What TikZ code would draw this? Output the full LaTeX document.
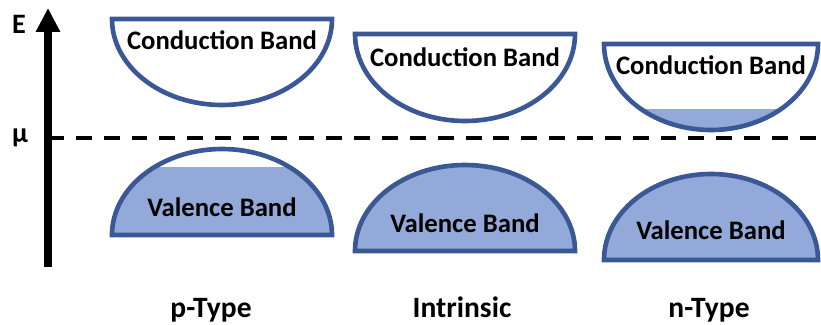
\documentclass[tikz,border=0pt]{standalone}
\usepackage{fontspec}
\setmainfont{Carlito}
\usepackage{tikz}
\usetikzlibrary{positioning, calc}
\usetikzlibrary{arrows.meta}

\begin{document}
\begin{tikzpicture}[x=0.025cm, y=0.025cm, font=\fontsize{19}{22}\selectfont\bfseries, >={Triangle[width=16.3pt, length=17pt]},
    band/.style={draw=bandblue, line width=3.3pt},
    lbl/.style={inner sep=0pt},
    kind/.style={inner sep=0pt, anchor=base, font=\fontsize{21}{24}\selectfont\bfseries},
    axlbl/.style={inner sep=0pt, font=\fontsize{20}{23}\selectfont\bfseries}]
        % Define colors
        \definecolor{bandblue}{RGB}{59,88,150}
        \definecolor{fillblue}{RGB}{146,169,217}

        \useasboundingbox (0,0) rectangle (821,324);

        % Energy axis and chemical potential
        \coordinate (axisbot) at (48,57);
        \coordinate (axistop) at (48,316);
        \coordinate (muleft) at (48,186);
        \coordinate (muright) at (821,186);
        \draw[dash pattern=on 11.3pt off 8.5pt, line width=2.8pt] (muleft) -- (muright);
        \draw[->, line width=5.7pt] (axisbot) -- (axistop);
        \node[axlbl] (E) at (19,300) {E};
        \node[axlbl] (mu) at (20,186) {µ};

        % p-Type
        \draw[band, fill=white] (112,305) arc[start angle=180, end angle=360, x radius=110, y radius=86] -- cycle;
        \begin{scope}
            \clip (112,89) arc[start angle=180, end angle=0, x radius=110, y radius=86] -- cycle;
            \fill[fillblue] (100,80) rectangle (340,157);
        \end{scope}
        \draw[band] (112,89) arc[start angle=180, end angle=0, x radius=110, y radius=86] -- cycle;

        % Intrinsic
        \draw[band, fill=white] (355,290) arc[start angle=180, end angle=360, x radius=110, y radius=87] -- cycle;
        \draw[band, fill=fillblue] (355,73) arc[start angle=180, end angle=0, x radius=110, y radius=86] -- cycle;

        % n-Type
        \begin{scope}
            \clip (604,280) arc[start angle=180, end angle=360, x radius=107, y radius=86] -- cycle;
            \fill[fillblue] (600,180) rectangle (825,215);
        \end{scope}
        \draw[band] (604,280) arc[start angle=180, end angle=360, x radius=107, y radius=86] -- cycle;
        \draw[band, fill=fillblue] (604,64) arc[start angle=180, end angle=0, x radius=107, y radius=86] -- cycle;

        % Band labels
        \node[lbl] (cbp) at (222,284) {Conduction Band};
        \node[lbl] (vbp) at (222,117) {Valence Band};
        \node[lbl] (cbi) at (465,267) {Conduction Band};
        \node[lbl] (vbi) at (465,101) {Valence Band};
        \node[lbl] (cbn) at (711,259) {Conduction Band};
        \node[lbl] (vbn) at (711,94) {Valence Band};

        % Doping labels
        \node[kind] (ptype) at (211,7) {p-Type};
        \node[kind] (intr) at (462,7) {Intrinsic};
        \node[kind] (ntype) at (709,7) {n-Type};
    \end{tikzpicture}
\end{document}
